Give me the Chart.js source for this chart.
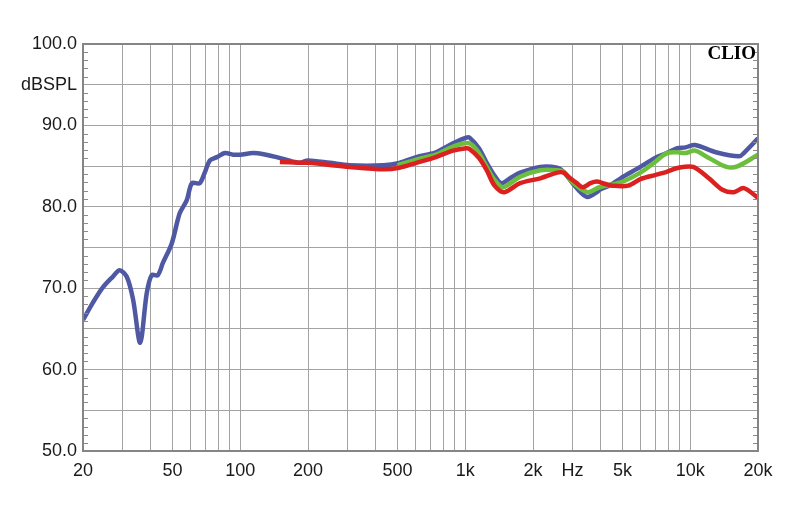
<!DOCTYPE html>
<html>
<head>
<meta charset="utf-8">
<script src="https://cdn.jsdelivr.net/npm/chart.js@4/dist/chart.umd.min.js"></script>
<style>
html,body{margin:0;padding:0;background:#fff;}
#wrap{width:800px;height:510px;position:relative;}
</style>
</head>
<body>
<div id="wrap"><canvas id="c" width="800" height="510"></canvas></div>
<script>
// ---- data ----
const blueFreq = [20,22.1,24.5,27.1,29.1,31.3,33.4,35.9,38.4,40.4,43,45.3,49.6,53.8,57.8,61,66,69.3,73.3,78.7,85.5,93,100,114,130,145,160,175,185,200,250,306,433,510,606,740,882,1010,1045,1150,1245,1350,1448,1600,1753,2155,2563,2735,3000,3250,3494,3850,3952,4442,4904,6000,6970,7850,8760,9520,10500,13000,16500,17300,20000];
const blueDb   = [66.1,68.2,70.1,71.4,72.2,71.4,68.6,63.3,69.4,71.6,71.6,73.1,75.5,79.2,80.8,82.9,82.9,84.1,85.7,86.1,86.6,86.4,86.4,86.6,86.4,86.1,85.8,85.5,85.4,85.7,85.4,85.1,85.1,85.4,86.1,86.7,87.8,88.5,88.5,87.2,85.4,83.8,82.9,83.6,84.2,84.9,84.8,84.3,82.9,81.8,81.2,81.8,82.1,82.7,83.5,84.9,86.0,86.6,87.2,87.3,87.6,86.7,86.2,86.6,88.4];

const greenFreq = [500,606,740,882,1045,1150,1245,1350,1470,1753,2155,2563,2735,3000,3494,3952,4904,6000,6970,7850,8760,9520,10500,12100,14500,16300,20000];
const greenDb   = [85.1,85.8,86.4,87.4,87.8,86.6,84.9,83.3,82.4,83.7,84.5,84.5,84.3,83.0,81.8,82.4,83.0,84.2,85.5,86.6,86.7,86.6,86.9,86.0,84.9,85.0,86.4];

const redFreq = [150,200,306,433,510,606,740,882,1010,1045,1150,1245,1350,1490,1753,2155,2563,2735,2900,3130,3330,3600,3850,4200,4500,5300,6000,6970,7850,8870,10300,12100,13900,15600,17300,20000];
const redDb   = [85.5,85.4,84.9,84.6,84.8,85.4,86.1,86.9,87.2,87.1,86.0,84.5,82.6,81.8,82.9,83.5,84.2,84.2,83.6,82.9,82.4,82.9,83.1,82.8,82.6,82.6,83.4,83.9,84.3,84.8,84.9,83.5,82.1,81.8,82.3,81.1];

const xGrid = [20,30,40,50,60,70,80,90,100,200,300,400,500,600,700,800,900,1000,2000,3000,4000,5000,6000,7000,8000,9000,10000,20000];
const xLabels = {20:'20',50:'50',100:'100',200:'200',500:'500',1000:'1k',2000:'2k',3000:'Hz',5000:'5k',10000:'10k',20000:'20k'};
const yLabels = {100:'100.0',95:'dBSPL',90:'90.0',80:'80.0',70:'70.0',60:'60.0',50:'50.0'};

const pts = (f, d) => f.map((v, i) => ({x: v, y: d[i]}));

const framePlugin = {
  id: 'frame',
  afterDraw(chart) {
    const ctx = chart.ctx, a = chart.chartArea, ys = chart.scales.y;
    ctx.save();
    ctx.strokeStyle = '#8a8a8a';
    ctx.lineWidth = 1;
    for (let v = 51; v < 100; v++) {
      if (v % 5 === 0) continue;
      const py = Math.round(ys.getPixelForValue(v)) + 0.5;
      ctx.beginPath();
      ctx.moveTo(a.left, py); ctx.lineTo(a.left + 5, py);
      ctx.moveTo(a.right - 5, py); ctx.lineTo(a.right, py);
      ctx.stroke();
    }
    ctx.strokeStyle = '#858585';
    ctx.lineWidth = 2;
    ctx.strokeRect(a.left, a.top, a.right - a.left, a.bottom - a.top);
    ctx.fillStyle = '#000';
    ctx.font = 'bold 19px "Liberation Serif", serif';
    ctx.textAlign = 'right';
    ctx.textBaseline = 'middle';
    ctx.fillText('CLIO', a.right - 2, a.top + 10);
    ctx.restore();
  }
};

new Chart(document.getElementById('c'), {
  type: 'line',
  data: {
    datasets: [
      {data: pts(redFreq, redDb), borderColor: '#dc1f1f', borderWidth: 4.5, pointRadius: 0, tension: 0.3},
      {data: pts(greenFreq, greenDb), borderColor: '#6cbf3c', borderWidth: 4.5, pointRadius: 0, tension: 0.3},
      {data: pts(blueFreq, blueDb), borderColor: '#4f58a3', borderWidth: 4.5, pointRadius: 0, tension: 0.3}
    ]
  },
  options: {
    responsive: false,
    animation: false,
    layout: {padding: {left: 0, right: 42, top: 44, bottom: 0}},
    plugins: {legend: {display: false}, tooltip: {enabled: false}},
    scales: {
      x: {
        type: 'logarithmic', min: 20, max: 20000,
        afterBuildTicks: s => { s.ticks = xGrid.map(v => ({value: v})); },
        afterFit: s => { s.height = 59; },
        grid: {color: '#a3a3a3', lineWidth: 1, drawTicks: false},
        border: {display: false},
        ticks: {
          autoSkip: false, maxRotation: 0, padding: 9,
          color: '#1a1a1a', font: {family: '"Liberation Sans", Arial, sans-serif', size: 18},
          callback: v => xLabels[v] || ''
        }
      },
      y: {
        min: 50, max: 100,
        afterBuildTicks: s => { const t = []; for (let v = 50; v <= 100; v += 5) t.push({value: v}); s.ticks = t; },
        afterFit: s => { s.width = 83; },
        grid: {color: '#a3a3a3', lineWidth: 1, drawTicks: false},
        border: {display: false},
        ticks: {
          padding: 6,
          color: '#1a1a1a', font: {family: '"Liberation Sans", Arial, sans-serif', size: 18},
          callback: v => yLabels[v] || ''
        }
      }
    }
  },
  plugins: [framePlugin]
});
</script>
</body>
</html>
